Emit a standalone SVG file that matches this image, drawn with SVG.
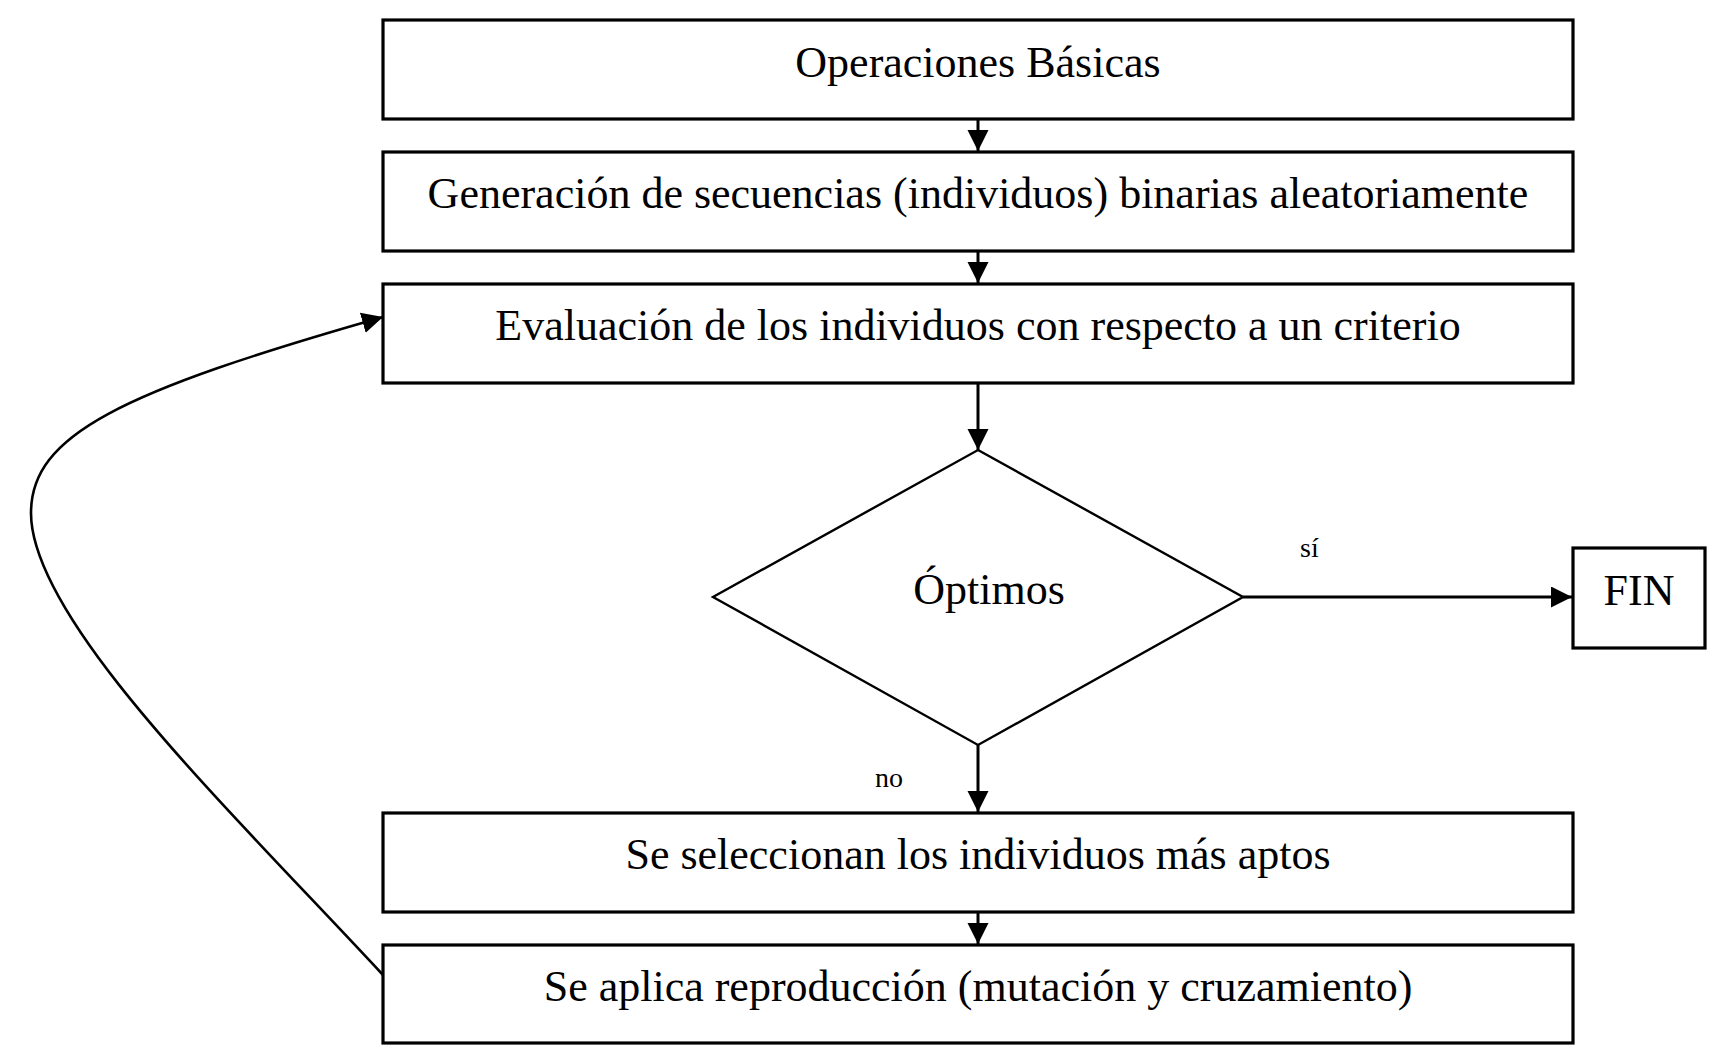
<svg xmlns="http://www.w3.org/2000/svg" width="1716" height="1063" viewBox="0 0 1716 1063">
<style>
.box{fill:#fff;stroke:#000;stroke-width:3.2}
.dia{fill:#fff;stroke:#000;stroke-width:2.4}
.t{font-family:"Liberation Serif","Times New Roman",serif;font-size:44px;fill:#000;text-anchor:middle}
.lbl{font-family:"Liberation Serif","Times New Roman",serif;font-size:28px;fill:#000}
.c{fill:none;stroke:#000;stroke-width:3}
.cv{fill:none;stroke:#000;stroke-width:2.6}
</style>
<defs>
<marker id="ah" markerUnits="userSpaceOnUse" markerWidth="22" markerHeight="22" refX="21" refY="10.5" orient="auto">
<path d="M0,0 L21,10.5 L0,21 z" fill="#000"/>
</marker>
</defs>
<rect width="1716" height="1063" fill="#fff"/>
<g id="connectors">
<line class="c" x1="978" y1="119" x2="978" y2="151" marker-end="url(#ah)"/>
<line class="c" x1="978" y1="251" x2="978" y2="283" marker-end="url(#ah)"/>
<line class="c" x1="978" y1="383" x2="978" y2="450" marker-end="url(#ah)"/>
<line class="c" x1="978" y1="745" x2="978" y2="812" marker-end="url(#ah)"/>
<line class="c" x1="978" y1="912" x2="978" y2="944" marker-end="url(#ah)"/>
<line class="c" x1="1243" y1="597" x2="1572" y2="597" marker-end="url(#ah)"/>
<path class="cv" d="M383,975 C230,810 31,620 31,513 C31,435 120,392 383,317" marker-end="url(#ah)"/>
<text class="lbl" x="1300" y="557">sí</text>
<text class="lbl" x="875" y="787">no</text>
</g>
<g id="n1"><rect class="box" x="383" y="20" width="1190" height="99"/><text class="t" x="978" y="77">Operaciones Básicas</text></g>
<g id="n2"><rect class="box" x="383" y="152" width="1190" height="99"/><text class="t" x="978" y="208">Generación de secuencias (individuos) binarias aleatoriamente</text></g>
<g id="n3"><rect class="box" x="383" y="284" width="1190" height="99"/><text class="t" x="978" y="340">Evaluación de los individuos con respecto a un criterio</text></g>
<g id="n4"><polygon class="dia" points="978,450 1243,597 978,745 713,597"/><text class="t" x="989" y="604">Óptimos</text></g>
<g id="n5"><rect class="box" x="1573" y="548" width="132" height="100"/><text class="t" x="1639" y="605">FIN</text></g>
<g id="n6"><rect class="box" x="383" y="813" width="1190" height="99"/><text class="t" x="978" y="869">Se seleccionan los individuos más aptos</text></g>
<g id="n7"><rect class="box" x="383" y="945" width="1190" height="98"/><text class="t" x="978" y="1001">Se aplica reproducción (mutación y cruzamiento)</text></g>
</svg>
